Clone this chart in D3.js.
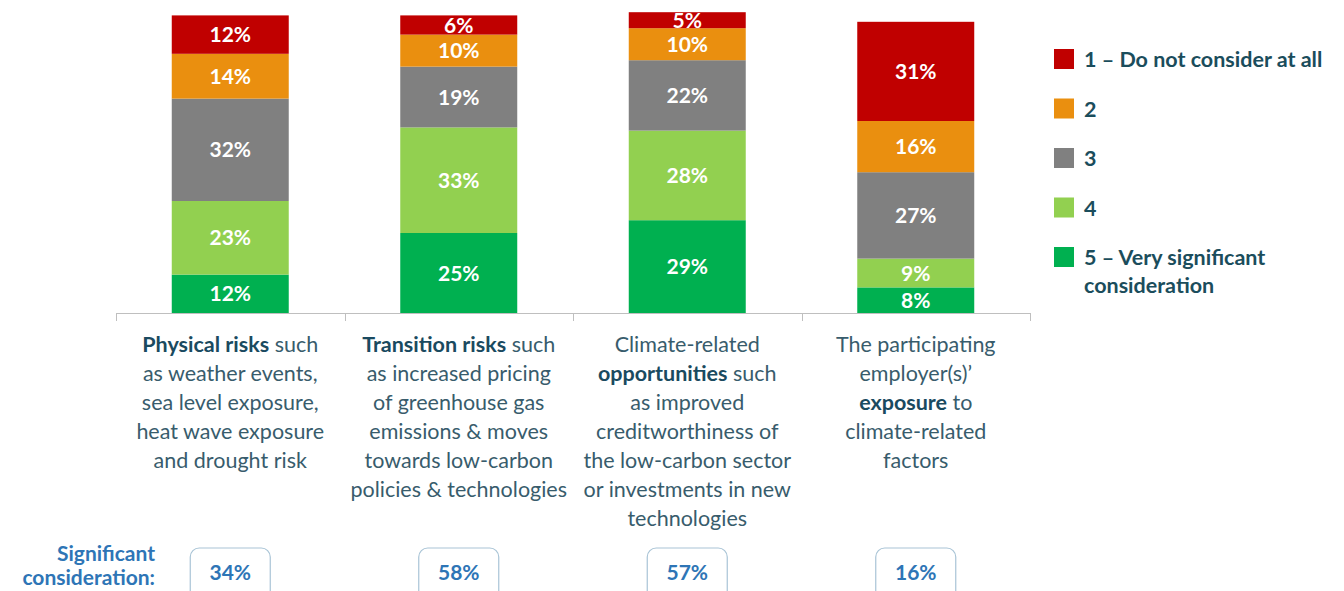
<!DOCTYPE html>
<html>
<head>
<meta charset="utf-8">
<script src="https://cdn.jsdelivr.net/npm/d3@7"></script>
<style>
    body { margin: 0; background: #fff; }
    svg { font-family: Lato, "Open Sans", sans-serif; }
</style>
</head>
<body>
<svg id="chart" width="1344" height="591"></svg>
<script>
    "use strict";
    var categories = ["physical", "transition", "opportunities", "exposure"];
    var levelKeys = ["l5", "l4", "l3", "l2", "l1"];
    var legendLabels = [["1 \u2013 Do not consider at all"], ["2"], ["3"], ["4"], ["5 \u2013 Very significant", "consideration"]];
    var legendKeys = ["l1", "l2", "l3", "l4", "l5"];
    var level1 = [12, 6, 5, 31];
    var level2 = [14, 10, 10, 16];
    var level3 = [32, 19, 22, 27];
    var level4 = [23, 33, 28, 9];
    var level5 = [12, 25, 29, 8];
    var significant = [34, 58, 57, 16];
    // each line is a list of [text, bold]
    var categoryLines = [
        [[["Physical risks", true], [" such", false]], [["as weather events,", false]], [["sea level exposure,", false]], [["heat wave exposure", false]], [["and drought risk", false]]],
        [[["Transition risks", true], [" such", false]], [["as increased pricing", false]], [["of greenhouse gas", false]], [["emissions & moves", false]], [["towards low-carbon", false]], [["policies & technologies", false]]],
        [[["Climate-related", false]], [["opportunities", true], [" such", false]], [["as improved", false]], [["creditworthiness of", false]], [["the low-carbon sector", false]], [["or investments in new", false]], [["technologies", false]]],
        [[["The participating", false]], [["employer(s)\u2019", false]], [["exposure", true], [" to", false]], [["climate-related", false]], [["factors", false]]]
    ];

    var colors = {l1: "#c00000", l2: "#ea8f0f", l3: "#808080", l4: "#92d050", l5: "#00b050"};

    var rows = categories.map(function (c, i) {
        return {cat: c, l1: level1[i], l2: level2[i], l3: level3[i], l4: level4[i], l5: level5[i]};
    });

    var svg = d3.select("#chart");
    var x = d3.scaleBand().domain(categories).range([116, 1030]).paddingInner(0.488).paddingOuter(0.244);
    var y = d3.scaleLinear().domain([0, 100]).range([313, -7]);
    var series = d3.stack().keys(levelKeys)(rows);

    var layer = svg.append("g").selectAll("g").data(series).enter().append("g")
        .attr("fill", function (d) { return colors[d.key]; });
    layer.selectAll("rect").data(function (d) { return d; }).enter().append("rect")
        .attr("x", function (d) { return x(d.data.cat); })
        .attr("width", x.bandwidth())
        .attr("y", function (d) { return y(d[1]); })
        .attr("height", function (d) { return y(d[0]) - y(d[1]); });

    series.forEach(function (s) {
        svg.append("g").selectAll("text").data(s).enter().append("text")
            .attr("x", function (d) { return x(d.data.cat) + x.bandwidth() / 2; })
            .attr("y", function (d) { return (y(d[0]) + y(d[1])) / 2; })
            .attr("dy", "0.36em")
            .attr("text-anchor", "middle")
            .attr("fill", "#fff")
            .attr("font-weight", "bold")
            .attr("font-size", 21)
            .text(function (d) { return d.data[s.key] + "%"; });
    });

    // axis with ticks at band edges
    var step = x.step();
    var axis = svg.append("g").attr("stroke", "#bfbfbf").attr("stroke-width", 1);
    axis.append("line").attr("x1", 116).attr("x2", 1030).attr("y1", 313.5).attr("y2", 313.5);
    var edges = categories.map(function (c) { return x(c) - (step - x.bandwidth()) / 2; });
    edges.push(edges[edges.length - 1] + step);
    axis.selectAll(".tick").data(edges).enter().append("line")
        .attr("x1", function (d) { return Math.round(d) + 0.5; })
        .attr("x2", function (d) { return Math.round(d) + 0.5; })
        .attr("y1", 313).attr("y2", 321);

    // category labels
    categoryLines.forEach(function (lines, i) {
        var cx = x(categories[i]) + x.bandwidth() / 2;
        var t = svg.append("text").attr("text-anchor", "middle").attr("font-size", 21.5);
        lines.forEach(function (line, j) {
            var ln = t.append("tspan").attr("x", cx).attr("y", 352 + j * 29);
            line.forEach(function (part) {
                ln.append("tspan")
                    .attr("font-weight", part[1] ? "bold" : "normal")
                    .attr("fill", part[1] ? "#1a4a60" : "#385c6c")
                    .text(part[0]);
            });
        });
    });

    // legend
    var legend = svg.append("g").selectAll("g").data(legendKeys).enter().append("g")
        .attr("transform", function (d, i) { return "translate(1054," + (49 + i * 49.5) + ")"; });
    legend.append("rect").attr("width", 20).attr("height", 20)
        .attr("fill", function (d) { return colors[d]; });
    legend.append("text").attr("x", 30).attr("font-size", 21.5).attr("font-weight", "bold")
        .attr("fill", "#1b4d5c")
        .selectAll("tspan").data(function (d, i) { return legendLabels[i]; }).enter().append("tspan")
        .attr("x", 30).attr("y", function (d, j) { return 18 + j * 28; })
        .text(function (d) { return d; });

    // significant consideration boxes
    var sig = svg.append("text").attr("text-anchor", "end").attr("font-size", 21)
        .attr("font-weight", "bold").attr("fill", "#2e75b6");
    sig.append("tspan").attr("x", 155).attr("y", 561).text("Significant");
    sig.append("tspan").attr("x", 155).attr("y", 585).text("consideration:");

    var boxes = svg.append("g").selectAll("g").data(significant).enter().append("g")
        .attr("transform", function (d, i) { return "translate(" + (x(categories[i]) + x.bandwidth() / 2) + ",0)"; });
    boxes.append("rect").attr("x", -40).attr("y", 548).attr("width", 80).attr("height", 52)
        .attr("rx", 9).attr("fill", "#fff").attr("stroke", "#a9c4d6").attr("stroke-width", 1.2);
    boxes.append("text").attr("y", 580).attr("text-anchor", "middle").attr("font-size", 21)
        .attr("font-weight", "bold").attr("fill", "#2e75b6")
        .text(function (d) { return d + "%"; });
</script>
</body>
</html>
